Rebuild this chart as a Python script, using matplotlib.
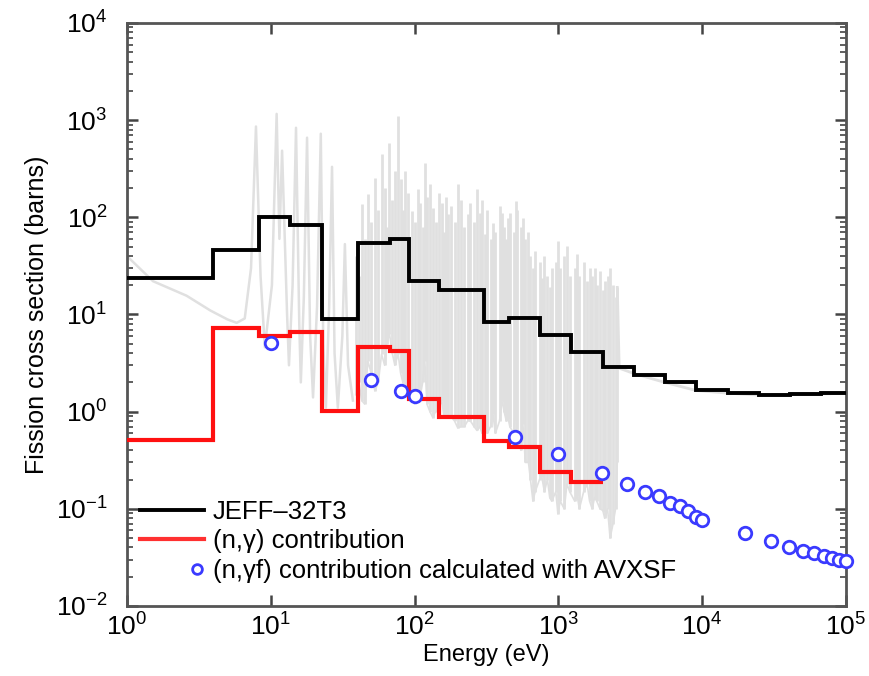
import numpy as np
import matplotlib
matplotlib.use("Agg")
import matplotlib.pyplot as plt
from matplotlib.legend_handler import HandlerLine2D
from matplotlib.lines import Line2D
from matplotlib.ticker import FixedLocator, NullFormatter, NullLocator

plt.rcParams["font.family"] = ["Liberation Sans", "DejaVu Sans"]
plt.rcParams["mathtext.default"] = "regular"

# group boundaries (eV), 33-group-like structure above 4 eV
edges = [1.0, 4.0, 8.315, 13.71, 22.60, 40.17, 67.90, 91.66, 148.6, 304.3,
         454.0, 748.5, 1234.0, 2035.0, 3355.0, 5531.0, 9119.0, 15030.0,
         24790.0, 40870.0, 67380.0, 111100.0]
jeff_group = [24, 46, 100, 84, 9.0, 55, 60, 22, 18, 8.4, 9.1, 6.2, 4.1,
              2.9, 2.4, 2.0, 1.68, 1.57, 1.5, 1.53, 1.55]
ngamma_group = [0.51, 7.2, 6.0, 6.6, 1.02, 4.6, 4.2, 1.36, 0.89, 0.5, 0.43,
                0.24, 0.19]

# AVXSF (n,gamma f) points
avx_e = [10, 50, 80, 100, 500, 1000, 2000, 3000, 4000, 5000, 6000, 7000,
         8000, 9000, 10000, 20000, 30000, 40000, 50000, 60000, 70000, 80000,
         90000, 100000]
avx_xs = [5.1, 2.13, 1.64, 1.46, 0.55, 0.37, 0.235, 0.18, 0.15, 0.137, 0.116,
          0.108, 0.094, 0.083, 0.077, 0.057, 0.047, 0.040, 0.037, 0.035,
          0.033, 0.031, 0.030, 0.029]

pw_lo_e = [1.0, 1.52, 2.6, 3.8, 5.0, 5.8, 6.6, 7.3, 7.9, 8.5, 9.1, 10.2, 11.0,
           11.5, 12.0, 13.0, 13.4, 14.2, 15.0, 15.8, 16.2, 17.0, 17.9, 18.8,
           19.7, 21.0, 22.3, 23.2, 24.2, 25.5, 26.7, 27.8, 29.3, 31.5, 32.8,
           34.5, 37.3]
pw_lo_xs = [40, 22, 15.6, 11, 8.9, 8.2, 9.1, 30, 860, 25, 4.6, 20, 1160,
            60, 485, 10, 3.0, 20, 835, 8, 2.0, 15, 660, 6, 1.4, 12, 725, 5,
            1.1, 12, 331, 4, 1.1, 6, 53, 3, 1.3]

# resolved-resonance forest: energy, peak, valley
res_e = [39, 41, 43, 45, 47.4, 50, 53, 56, 59, 62, 64, 67, 70, 73, 77, 80,
         83, 86, 90, 96, 100, 106, 110, 114, 118, 122, 128, 134, 140, 148,
         155, 160, 165, 171, 178, 190, 200, 210, 222, 235, 245, 260, 272, 285,
         295, 309, 320, 338, 351, 365, 390, 405, 420, 435, 447, 460, 490, 507,
         520, 550, 567, 590, 620, 640, 666, 690, 740, 769, 800, 840, 872, 900,
         960, 993, 1030, 1100, 1148, 1200, 1300, 1349, 1400, 1500, 1585, 1650,
         1720, 1786, 1850, 1950, 2042, 2100, 2200, 2290, 2400, 2500, 2570]
res_top = [40, 25, 138, 60, 175, 90, 255, 120, 451, 200, 80, 585, 150, 300,
           1100, 250, 120, 302, 180, 117, 90, 197, 140, 80, 365, 160, 220,
           126, 90, 180, 141, 70, 160, 109, 130, 90, 222, 150, 80, 109, 140,
           90, 197, 110, 150, 68, 120, 60, 88, 70, 130, 111, 80, 60, 99, 110,
           70, 148, 120, 80, 99, 60, 70, 40, 30, 45, 35, 24, 40, 25, 19, 30,
           35, 57, 30, 40, 51, 25, 30, 42, 25, 35, 22, 30, 25, 30, 20, 28, 18,
           22, 25, 30, 20, 15, 19]
res_bot = [1.5, 2.0, 1.3, 1.2, 3.3, 2.5, 1.64, 2.0, 3.9, 3.0, 5.0, 6.3, 4.0,
           3.0, 3.9, 2.5, 2.0, 1.64, 1.5, 1.3, 1.2, 1.64, 1.5, 2.0, 3.3, 1.2,
           1.0, 0.87, 1.0, 1.1, 1.3, 0.9, 1.0, 0.87, 0.9, 0.8, 0.68, 0.7, 0.7,
           0.81, 0.8, 0.7, 0.64, 0.7, 0.6, 0.68, 0.6, 0.7, 0.95, 0.6, 0.8, 1.3,
           1.0, 0.8, 0.87, 0.7, 0.6, 1.2, 0.5, 0.4, 0.75, 0.3, 0.3, 0.2, 0.12,
           0.15, 0.2, 0.21, 0.15, 0.2, 0.13, 0.12, 0.15, 0.089, 0.12, 0.1,
           0.18, 0.15, 0.12, 0.14, 0.1, 0.15, 0.18, 0.12, 0.1, 0.13, 0.12, 0.1,
           0.096, 0.08, 0.1, 0.05, 0.07, 0.1, 0.3]

# pointwise curve, unresolved range
pw_hi_e = [2570, 2650, 3400, 5500, 9100, 15000, 25000, 41000, 68000, 100000]
pw_hi_xs = [19, 2.8, 2.45, 2.0, 1.65, 1.55, 1.48, 1.5, 1.52, 1.55]

x_decades = [1e0, 1e1, 1e2, 1e3, 1e4, 1e5]
y_decades = [1e-2, 1e-1, 1e0, 1e1, 1e2, 1e3, 1e4]


class RightMarker(HandlerLine2D):
    # put the single legend marker at the right end of the handle box
    def get_xdata(self, legend, xdescent, ydescent, width, height, fontsize):
        right = width - xdescent
        xdata = np.array([right - 10.0, right])
        return xdata, xdata


fig = plt.figure(figsize=(8.69, 6.76), dpi=100)
ax = fig.add_axes([0.146, 0.1036, 0.8275, 0.8624])

grey = "#e0e0e0"
ax.plot(pw_lo_e, pw_lo_xs, color=grey, lw=1.8, zorder=1)
ax.vlines(res_e, res_bot, res_top, color=grey, lw=2.0, zorder=1)
ax.plot(res_e, res_bot, color=grey, lw=1.2, zorder=1)
ax.plot(pw_hi_e, pw_hi_xs, color=grey, lw=2.0, zorder=1)

ax.stairs(jeff_group, edges, baseline=None, color="black", lw=2.8, zorder=3)
ax.stairs(ngamma_group, edges[:len(ngamma_group) + 1], baseline=None,
          color="#ff1010", lw=3.0, zorder=4)
ax.plot(avx_e, avx_xs, ls="none", marker="o", ms=9, mfc="white",
        mec="#3a3aff", mew=2.0, zorder=5, clip_on=False)

ax.set_xscale("log")
ax.set_yscale("log")
ax.set_xlim(1, 1e5)
ax.set_ylim(1e-2, 1e4)
ax.set_xlabel("Energy (eV)", fontsize=17, labelpad=3)
ax.set_ylabel("Fission cross section (barns)", fontsize=18, labelpad=5)

for s in ax.spines.values():
    s.set_color("#555555")
    s.set_linewidth(2.0)
ax.tick_params(which="both", direction="in", top=True, right=True,
               color="#444444", labelsize=19)
ax.tick_params(which="major", length=8, width=1.8)
ax.tick_params(axis="x", which="major", pad=5)
ax.tick_params(axis="y", which="major", pad=14)
ax.tick_params(which="minor", length=4, width=1.2)

ax.xaxis.set_major_locator(FixedLocator(x_decades))
ax.xaxis.set_minor_locator(NullLocator())
ax.yaxis.set_major_locator(FixedLocator(y_decades))
ax.yaxis.set_minor_locator(FixedLocator(
    [m * d for d in y_decades[:-1] for m in range(2, 10)]))
ax.yaxis.set_minor_formatter(NullFormatter())

h_jeff = Line2D([], [], color="black", lw=2.8)
h_ng = Line2D([], [], color="#ff3030", lw=3.0)
h_avx = Line2D([], [], ls="none", marker="o", ms=7, mfc="white",
               mec="#3a3aff", mew=2.0)
ax.legend([h_jeff, h_ng, h_avx],
          ["JEFF\u201332T3", "(n,\u03b3) contribution",
           "(n,\u03b3f) contribution calculated with AVXSF"],
          loc="lower left", bbox_to_anchor=(0.007, 0.026), frameon=False,
          fontsize=18.5, handlelength=2.5, handletextpad=0.35,
          labelspacing=0.22, borderaxespad=0, borderpad=0.3,
          handler_map={h_avx: RightMarker(numpoints=1)})

fig.savefig("out.png", dpi=100)
